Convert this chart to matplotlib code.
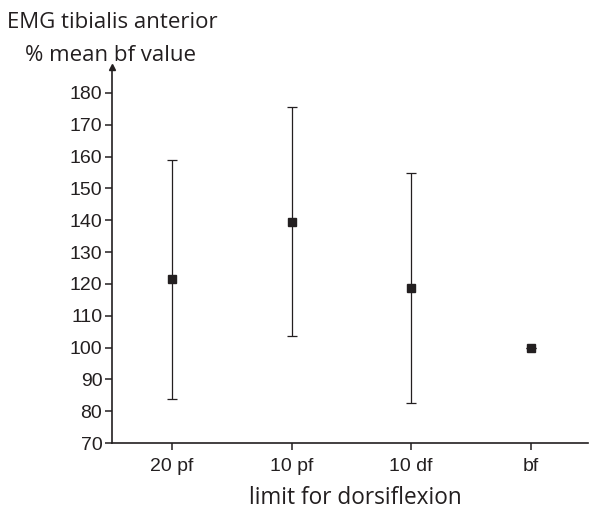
import numpy as np
import matplotlib.pyplot as plt

plt.rcParams["font.family"] = ["Liberation Sans", "DejaVu Sans"]

# values
conditions = ["20 pf", "10 pf", "10 df", "bf"]
mean_pct = [121.6, 139.6, 118.8, 100.0]
upper = [159.0, 175.7, 154.9, 100.0]
lower = [83.9, 103.5, 82.7, 100.0]

x = np.arange(len(conditions))
mean_arr = np.array(mean_pct)
yerr = [mean_arr - np.array(lower), np.array(upper) - mean_arr]

fig = plt.figure(figsize=(5.91, 5.11), dpi=100)
ax = fig.add_axes([0.1895, 0.133, 0.806, 0.735])

ax.errorbar(x, mean_pct, yerr=yerr, fmt="s", color="#231f20", ecolor="#231f20",
            markersize=6, elinewidth=0.9, capsize=3.5, capthick=0.9)

ax.set_xlim(-0.5, 3.48)
ax.set_ylim(70, 188)
ax.set_yticks(range(70, 181, 10))
ax.set_xticks(x)
ax.set_xticklabels(conditions)

for s in ["top", "right"]:
    ax.spines[s].set_visible(False)
for s in ["left", "bottom"]:
    ax.spines[s].set_color("#231f20")
    ax.spines[s].set_linewidth(1.2)

ax.tick_params(axis="both", direction="out", length=5, width=1.1, color="#231f20",
               labelsize=14, labelcolor="#231f20")
ax.tick_params(axis="y", pad=2)
ax.tick_params(axis="x", pad=6)

# arrow head on top of the y axis
ax.plot(0, 1, marker="^", color="#231f20", markersize=5, transform=ax.transAxes, clip_on=False)

ax.set_xlabel("limit for dorsiflexion", fontsize=16.3, family="Open Sans", color="#231f20")
ax.xaxis.set_label_coords(0.51, -0.115)
fig.text(0.012, 0.956, "EMG tibialis anterior", fontsize=16, family="Open Sans", color="#231f20", va="center")
fig.text(0.042, 0.892, "% mean bf value", fontsize=16, family="Open Sans", color="#231f20", va="center")

fig.savefig("out.png", dpi=100)
